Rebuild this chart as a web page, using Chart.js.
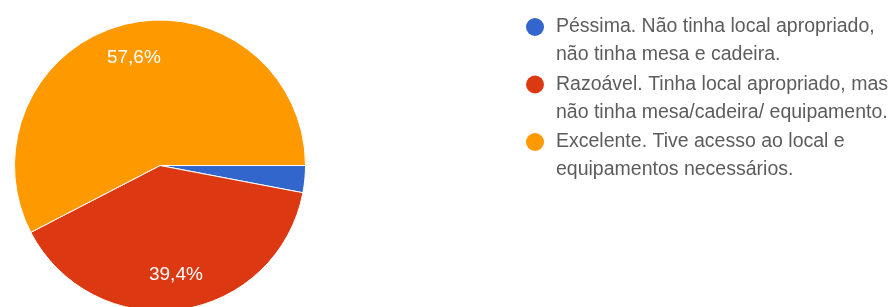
<!DOCTYPE html>
<html>
<head>
<meta charset="utf-8">
<script src="https://cdn.jsdelivr.net/npm/chart.js@4/dist/chart.umd.min.js"></script>
<style>
  html, body { margin: 0; padding: 0; background: #fff; overflow: hidden; }
  #wrap { position: relative; width: 894px; height: 320px; }
</style>
</head>
<body>
<div id="wrap"><canvas id="pie"></canvas></div>
<script>
// answer categories (legend lines) and their share in percent
const CATEGORIES = [
  ['Péssima. Não tinha local apropriado,', 'não tinha mesa e cadeira.'],
  ['Razoável. Tinha local apropriado, mas', 'não tinha mesa/cadeira/ equipamento.'],
  ['Excelente. Tive acesso ao local e', 'equipamentos necessários.']
];
const VALUES = [3.0, 39.4, 57.6];
const COLORS = ['#3366cc', '#dc3912', '#ff9900'];

const FONT = '"Liberation Sans", Arial, sans-serif';

// percentage labels inside the slices (white, skip tiny slices)
const sliceLabels = {
  id: 'sliceLabels',
  afterDatasetsDraw(chart) {
    const { ctx } = chart;
    const meta = chart.getDatasetMeta(0);
    const total = VALUES.reduce((a, b) => a + b, 0);
    ctx.save();
    ctx.fillStyle = '#ffffff';
    ctx.font = '19px ' + FONT;
    ctx.textAlign = 'center';
    ctx.textBaseline = 'middle';
    meta.data.forEach((arc, i) => {
      const pct = VALUES[i] / total * 100;
      if (pct < 5) return;
      const mid = (arc.startAngle + arc.endAngle) / 2;
      const r = arc.outerRadius * 0.76;
      const txt = pct.toFixed(1).replace('.', ',') + '%';
      ctx.fillText(txt, arc.x + Math.cos(mid) * r, arc.y + Math.sin(mid) * r);
    });
    ctx.restore();
  }
};

// google-forms style legend on the right: dot + two wrapped lines
const sideLegend = {
  id: 'sideLegend',
  afterDraw(chart) {
    const { ctx } = chart;
    const dotX = 535, textX = 556, top = 27, itemStep = 57.5, lineStep = 28;
    ctx.save();
    ctx.font = '19.5px ' + FONT;
    ctx.textBaseline = 'middle';
    ctx.textAlign = 'left';
    CATEGORIES.forEach((lines, i) => {
      const y = top + i * itemStep;
      ctx.fillStyle = COLORS[i];
      ctx.beginPath();
      ctx.arc(dotX, y, 9, 0, Math.PI * 2);
      ctx.fill();
      ctx.fillStyle = '#5c5c5c';
      lines.forEach((ln, j) => ctx.fillText(ln, textX, y + j * lineStep));
    });
    ctx.restore();
  }
};

new Chart(document.getElementById('pie'), {
  type: 'pie',
  data: {
    labels: CATEGORIES.map(l => l.join(' ')),
    datasets: [{
      data: VALUES,
      backgroundColor: COLORS,
      borderColor: '#ffffff',
      borderWidth: 1
    }]
  },
  options: {
    responsive: true,
    maintainAspectRatio: false,
    animation: false,
    rotation: 90,
    layout: { padding: { left: 14, top: 19, right: 588, bottom: 8 } },
    plugins: {
      legend: { display: false },
      tooltip: { enabled: false }
    }
  },
  plugins: [sliceLabels, sideLegend]
});
</script>
</body>
</html>
